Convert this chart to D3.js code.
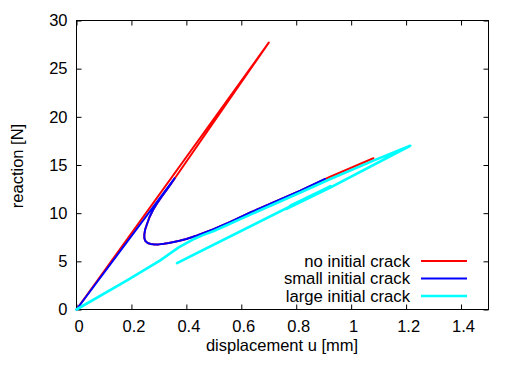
<!DOCTYPE html>
<html>
<head>
<meta charset="utf-8">
<script src="https://cdn.jsdelivr.net/npm/d3@7"></script>
<style>
  body { margin: 0; background: #fff; }
  svg { display: block; font-family: "Liberation Sans", Arial, sans-serif; }
  .tick text { font-size: 16.5px; fill: #000; }
  .lbl { font-size: 16.5px; fill: #000; }
  .legend text { font-size: 16.7px; fill: #000; }
</style>
</head>
<body>
<svg width="521" height="365"></svg>
<script>
// --- data: [u (mm), reaction (N)] ---
const noCrack = [
  [0, 0], [0.70, 27.7], [0.36, 13.7],
  [0.345, 13.1], [0.33, 12.5], [0.312, 11.8], [0.293, 11.0], [0.278, 10.3],
  [0.266, 9.6], [0.257, 8.9], [0.250, 8.3], [0.247, 7.8], [0.247, 7.4],
  [0.251, 7.1], [0.259, 6.9], [0.270, 6.8], [0.285, 6.75], [0.30, 6.76],
  [0.318, 6.82], [0.336, 6.9], [0.354, 7.0], [0.375, 7.13], [0.40, 7.32],
  [0.439, 7.68], [0.499, 8.33], [0.56, 9.1], [0.633, 10.07],
  [0.815, 12.33], [0.924, 13.78], [1.081, 15.7]
];
const smallCrack = [
  [0, 0], [0.357, 13.61],
  [0.345, 13.1], [0.33, 12.5], [0.312, 11.8], [0.293, 11.0], [0.278, 10.3],
  [0.266, 9.6], [0.257, 8.9], [0.250, 8.3], [0.247, 7.8], [0.247, 7.4],
  [0.251, 7.1], [0.259, 6.9], [0.270, 6.8], [0.285, 6.75], [0.30, 6.76],
  [0.318, 6.82], [0.336, 6.9], [0.354, 7.0], [0.375, 7.13], [0.40, 7.32],
  [0.439, 7.68], [0.499, 8.33], [0.56, 9.1], [0.633, 10.07],
  [0.815, 12.33], [0.905, 13.55]
];
const largeCrack = [
  [0, 0], [0.184, 3.02], [0.305, 5.1], [0.372, 6.45], [0.43, 7.35], [0.46, 7.72],
  [0.5, 8.15], [0.633, 9.85], [0.815, 12.15], [0.924, 13.55], [1.081, 15.45],
  [1.215, 17.0],
  [0.92, 12.6], [0.765, 10.45], [0.78, 10.8], [0.925, 12.8], [0.366, 4.82]
];

const seriesNames = ["no initial crack", "small initial crack", "large initial crack"];
const seriesColors = ["#ff0000", "#0000ff", "#00ffff"];
const seriesWidths = [2, 2, 2.6];
const seriesData = [noCrack, smallCrack, largeCrack];

const xTicks = [0, 0.2, 0.4, 0.6, 0.8, 1, 1.2, 1.4];
const yTicks = [0, 5, 10, 15, 20, 25, 30];

const svg = d3.select("svg");
const plotL = 76.5, plotR = 488.5, plotT = 20.5, plotB = 309.5;

const x = d3.scaleLinear().domain([0, 1.5]).range([plotL, plotR]);
const y = d3.scaleLinear().domain([0, 30]).range([plotB, plotT]);

// axes (ticks point inward, mirrored on top/right)
const gx = svg.append("g").attr("transform", `translate(0,${plotB})`)
  .call(d3.axisBottom(x).tickValues(xTicks).tickFormat(d3.format("~g"))
    .tickSizeInner(-5).tickSizeOuter(0).tickPadding(10.5));
gx.selectAll("text").attr("dx", 2);
svg.append("g").attr("transform", `translate(${plotL},0)`)
  .call(d3.axisLeft(y).tickValues(yTicks).tickSizeInner(-5).tickSizeOuter(0).tickPadding(9));
svg.append("g").attr("transform", `translate(0,${plotT})`)
  .call(d3.axisTop(x).tickValues(xTicks).tickFormat("").tickSizeInner(-5).tickSizeOuter(0));
svg.append("g").attr("transform", `translate(${plotR},0)`)
  .call(d3.axisRight(y).tickValues(yTicks).tickFormat("").tickSizeInner(-5).tickSizeOuter(0));
svg.selectAll(".domain").remove();
svg.selectAll(".tick line").attr("stroke", "#000");

svg.append("rect")
  .attr("x", plotL).attr("y", plotT)
  .attr("width", plotR - plotL).attr("height", plotB - plotT)
  .attr("fill", "none").attr("stroke", "#000");

// axis titles
svg.append("text").attr("class", "lbl")
  .attr("x", 282).attr("y", 350.5).attr("text-anchor", "middle")
  .text("displacement u [mm]");
svg.append("text").attr("class", "lbl")
  .attr("transform", "translate(23,166) rotate(-90)").attr("text-anchor", "middle")
  .text("reaction [N]");

// curves
const line = d3.line().x(d => x(d[0])).y(d => y(d[1]));
seriesData.forEach((s, i) => {
  svg.append("path")
    .attr("d", line(s))
    .attr("fill", "none")
    .attr("stroke", seriesColors[i])
    .attr("stroke-width", seriesWidths[i])
    .attr("stroke-linejoin", "round")
    .attr("stroke-linecap", "round");
});

// legend
const legend = svg.append("g").attr("class", "legend");
seriesNames.forEach((name, i) => {
  const ly = 261 + i * 17.5;
  legend.append("text")
    .attr("x", 410).attr("y", ly).attr("dy", "0.35em")
    .attr("text-anchor", "end").text(name);
  legend.append("line")
    .attr("x1", 421).attr("x2", 467).attr("y1", ly).attr("y2", ly)
    .attr("stroke", seriesColors[i]).attr("stroke-width", seriesWidths[i]);
});
</script>
</body>
</html>
